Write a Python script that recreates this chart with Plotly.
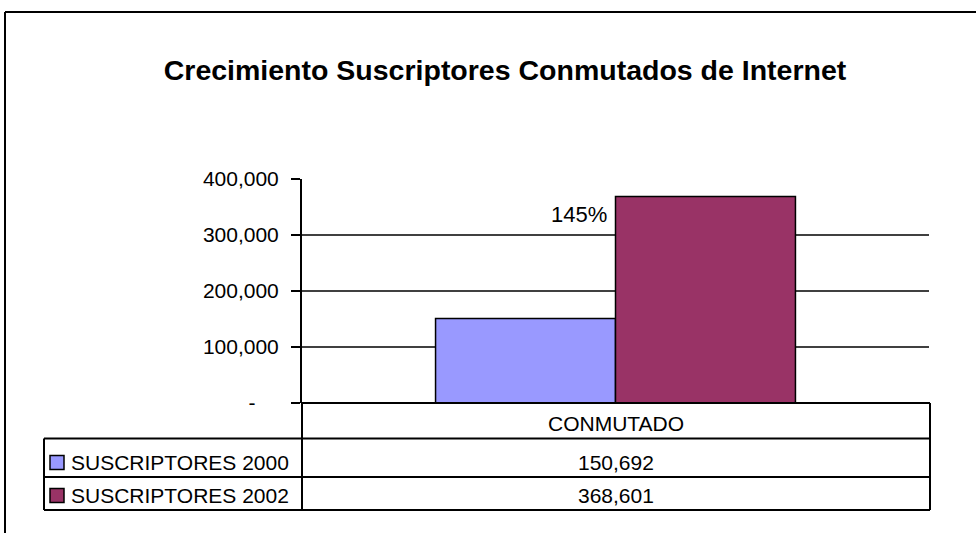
import plotly.graph_objects as go

# ---- data ----
categories = ["CONMUTADO"]
series_names = ["SUSCRIPTORES 2000", "SUSCRIPTORES 2002"]
values_2000 = [150692]
values_2002 = [368601]
tick_vals = [0, 100000, 200000, 300000, 400000]
tick_text = ["-" + "\u00a0" * 4, "100,000", "200,000", "300,000", "400,000"]
title_text = "Crecimiento Suscriptores Conmutados de Internet"

colors = ["#9999FF", "#993366"]
FONT = "Liberation Sans, Arial, sans-serif"

W, H = 976, 533
L, R, T, B = 302, 47, 179, 130
PW, PH = W - L - R, H - T - B


def px(x):
    return (x - L) / PW


def py(y):
    return (H - B - y) / PH


fig = go.Figure()
for name, vals, col in zip(series_names, [values_2000, values_2002], colors):
    fig.add_trace(go.Bar(
        x=categories, y=vals, name=name,
        marker=dict(color=col, line=dict(color="black", width=1.5)),
        showlegend=False, hoverinfo="skip",
    ))

shapes = []
# gridlines (excluding top)
for v in tick_vals[1:-1]:
    shapes.append(dict(type="line", xref="paper", yref="y", x0=0, x1=1, y0=v, y1=v,
                       line=dict(color="black", width=1.5), layer="below"))

def hline(y, x0, x1, w=2):
    shapes.append(dict(type="line", xref="paper", yref="paper",
                       x0=px(x0), x1=px(x1), y0=py(y), y1=py(y),
                       line=dict(color="black", width=w)))

def vline(x, y0, y1, w=2):
    shapes.append(dict(type="line", xref="paper", yref="paper",
                       x0=px(x), x1=px(x), y0=py(y0), y1=py(y1),
                       line=dict(color="black", width=w)))

# outer chart border (left & top visible)
hline(12, 5, 980)
vline(5, 12, 540)

# data table
hline(403, 302, 930)
hline(438.5, 44, 930)
hline(477, 44, 930)
hline(510, 44, 930)
vline(44, 438.5, 510)
vline(302, 403, 510)
vline(930, 403, 510)

# legend keys
key_rows = [462.5, 495.5]
for yc, col in zip(key_rows, colors):
    shapes.append(dict(type="rect", xref="paper", yref="paper",
                       x0=px(50), x1=px(64), y0=py(yc - 7), y1=py(yc + 7),
                       fillcolor=col, line=dict(color="black", width=1.5)))

annotations = []
annotations.append(dict(text=categories[0], xref="paper", yref="paper", x=0.5, y=py(423),
                        showarrow=False, xanchor="center", yanchor="middle",
                        font=dict(family=FONT, size=21, color="black")))
for yc, name, vals in zip(key_rows, series_names, [values_2000, values_2002]):
    annotations.append(dict(text=name, xref="paper", yref="paper", x=px(69), y=py(yc),
                            showarrow=False, xanchor="left", yanchor="middle",
                            font=dict(family=FONT, size=21, color="black")))
    annotations.append(dict(text=f"{vals[0]:,}", xref="paper", yref="paper", x=0.5, y=py(yc),
                            showarrow=False, xanchor="center", yanchor="middle",
                            font=dict(family=FONT, size=21, color="black")))

growth = (values_2002[0] - values_2000[0]) / values_2000[0]
annotations.append(dict(text=f"{growth:.0%}", xref="paper", yref="paper", x=px(609), y=py(214),
                        showarrow=False, xanchor="right", yanchor="middle",
                        font=dict(family=FONT, size=22, color="black")))

fig.update_layout(
    width=W, height=H,
    margin=dict(l=L, r=R, t=T, b=B),
    paper_bgcolor="white", plot_bgcolor="white",
    barmode="group", bargap=0.426, bargroupgap=0,
    title=dict(text=f"<b>{title_text}</b>", x=505 / W, xref="container", xanchor="center",
               y=1 - 70 / H, yref="container", yanchor="middle",
               font=dict(family=FONT, size=28.5, color="black")),
    xaxis=dict(showticklabels=False, showline=False, showgrid=False, zeroline=False, ticks=""),
    yaxis=dict(range=[0, 400000], tickvals=tick_vals, ticktext=tick_text,
               showgrid=False, zeroline=False, showline=True, linecolor="black", linewidth=2,
               ticks="outside", ticklen=9, tickwidth=1.5, tickcolor="black",
               ticklabelstandoff=8,
               tickfont=dict(family=FONT, size=21, color="black")),
    shapes=shapes, annotations=annotations,
)

fig.write_html("out.html", config={"displayModeBar": False, "staticPlot": True},
               post_script="document.body.style.margin='0';document.body.style.overflow='hidden';")
